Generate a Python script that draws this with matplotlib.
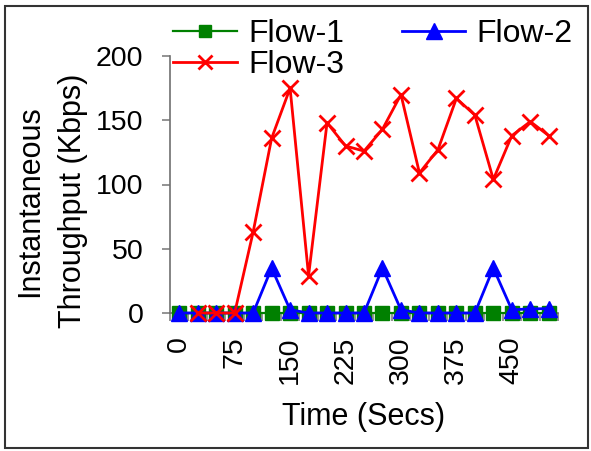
import matplotlib
matplotlib.use("Agg")
import matplotlib.pyplot as plt
from matplotlib.patches import Rectangle
import numpy as np

plt.rcParams['font.family'] = ['Liberation Sans', 'DejaVu Sans']

# Sample times (seconds), one sample every 25 s
times = [0, 25, 50, 75, 100, 125, 150, 175, 200, 225, 250,
         275, 300, 325, 350, 375, 400, 425, 450, 475, 500]
tick_labels = ['0', '75', '150', '225', '300', '375', '450']

flow1 = [0] * 21
flow2 = [0, 0, 0, 0, 0, 35, 2.5, 0, 0, 0, 0,
         35, 2.5, 0, 0, 0, 0, 35, 2.5, 3.2, 3.4]
# Flow-3 starts at the second sample
flow3 = [0, 0, 0, 63, 136, 175, 29, 148, 130, 126,
         143, 170, 109, 127, 167, 154, 104, 138, 149, 138]

FS_TICK = 20.5
FS_LABEL = 22
FS_LEG = 23
fig = plt.figure(figsize=(5.91, 4.51), dpi=100)
W, H = 591, 451
ax = fig.add_axes([170 / W, 1 - 313 / H, (558 - 170) / W, (313 - 56) / H])

idx = np.arange(len(times))
idx3 = idx[len(times) - len(flow3):]

l1, = ax.plot(idx, flow1, color='#008000', lw=1.6, marker='s', ms=9.5,
              mec='#008000', mfc='#008000', clip_on=False, zorder=3, label='Flow-1')
l2, = ax.plot(idx, flow2, color='#0000FF', lw=2.0, marker='^', ms=11.5,
              mec='#0000FF', mfc='#0000FF', clip_on=False, zorder=4, label='Flow-2')
l3, = ax.plot(idx3, flow3, color='#FF0000', lw=2.0, marker='x', ms=11,
              mew=2.0, clip_on=False, zorder=5, label='Flow-3')

ax.set_xlim(-0.5, len(times) - 0.5)
ax.set_ylim(0, 200)
ax.set_yticks([0, 50, 100, 150, 200])

label_idx = [times.index(int(t)) for t in tick_labels]
ax.set_xticks(label_idx)
ax.set_xticklabels(tick_labels, rotation=90, fontsize=FS_TICK, va='top', ha='center')
ax.set_xticks(np.arange(-0.5, len(times)), minor=True)
ax.tick_params(axis='x', which='major', length=0, pad=17)
ax.tick_params(axis='x', which='minor', length=6, width=1.2, color='#808080', direction='out')
ax.tick_params(axis='y', length=6, width=1.2, color='#808080', direction='out',
               pad=13, labelsize=FS_TICK)

for s in ['top', 'right']:
    ax.spines[s].set_visible(False)
for s in ['left', 'bottom']:
    ax.spines[s].set_color('#6f6f6f')
    ax.spines[s].set_linewidth(1.2)

ax.set_ylabel('Instantaneous\nThroughput (Kbps)', fontsize=FS_LABEL, va='center',
              ha='center', linespacing=1.55)
ax.yaxis.set_label_coords(51.5 / W, 1 - 201 / H, transform=fig.transFigure)
ax.set_xlabel('Time (Secs)', fontsize=FS_LABEL, va='center', ha='center')
ax.xaxis.set_label_coords(364 / W, 1 - 417 / H, transform=fig.transFigure)

leg = fig.legend([l1, l3, l2], ['Flow-1', 'Flow-3', 'Flow-2'], ncol=2,
                 loc='upper left', bbox_to_anchor=(173 / W, 1 - 19 / H),
                 frameon=False, fontsize=FS_LEG, numpoints=1, borderpad=0,
                 borderaxespad=0, handlelength=2.0, handletextpad=0.35,
                 columnspacing=1.8, labelspacing=0.03, markerscale=0.95)

fig.add_artist(Rectangle((5 / W, 3 / H), 583 / W, 442 / H, transform=fig.transFigure,
                         fill=False, ec='#333333', lw=1.5))

fig.savefig('out.png', dpi=100)
